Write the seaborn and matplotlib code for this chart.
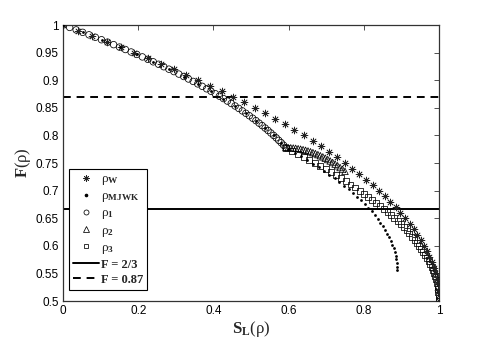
import numpy as np
import pandas as pd
import matplotlib
matplotlib.use("Agg")
import matplotlib.pyplot as plt
import seaborn as sns
from matplotlib.lines import Line2D
from matplotlib.ticker import FuncFormatter, MultipleLocator

sns.set_theme(style="white")
plt.rcParams["font.family"] = ["Liberation Sans", "DejaVu Sans"]
plt.rcParams["mathtext.fontset"] = "custom"
plt.rcParams["mathtext.rm"] = "Liberation Serif"
plt.rcParams["mathtext.it"] = "Liberation Serif"
plt.rcParams["mathtext.bf"] = "Liberation Serif:bold"
plt.rcParams["xtick.direction"] = "in"
plt.rcParams["ytick.direction"] = "in"

# rho_W (Werner) points
w_s = [0, 0.0396, 0.0784, 0.1164, 0.1536, 0.19, 0.2256, 0.2604, 0.2944, 0.3276,
       0.36, 0.3916, 0.4224, 0.4524, 0.4816, 0.51, 0.5376, 0.5644, 0.5904, 0.6156,
       0.64, 0.6636, 0.6864, 0.7084, 0.7296, 0.75, 0.7696, 0.7884, 0.8064, 0.8236,
       0.84, 0.8556, 0.8704, 0.8844, 0.8976, 0.91, 0.9216, 0.9324, 0.9424, 0.9516,
       0.96, 0.9676, 0.9744, 0.9804, 0.9856, 0.99, 0.9936, 0.9964, 0.9984, 0.9996, 1.0]
w_f = [1.00, 0.99, 0.98, 0.97, 0.96, 0.95, 0.94, 0.93, 0.92, 0.91,
       0.90, 0.89, 0.88, 0.87, 0.86, 0.85, 0.84, 0.83, 0.82, 0.81,
       0.80, 0.79, 0.78, 0.77, 0.76, 0.75, 0.74, 0.73, 0.72, 0.71,
       0.70, 0.69, 0.68, 0.67, 0.66, 0.65, 0.64, 0.63, 0.62, 0.61,
       0.60, 0.59, 0.58, 0.57, 0.56, 0.55, 0.54, 0.53, 0.52, 0.51, 0.50]

# rho_MJWK
m_s = [0, 0.0523, 0.1024, 0.1504, 0.1963, 0.24, 0.2816, 0.3211, 0.3584, 0.3936,
       0.4267, 0.4576, 0.4864, 0.5131, 0.5376, 0.56, 0.5803,
       0.5985, 0.6158, 0.6326, 0.6489, 0.6646, 0.6798, 0.6945, 0.7086, 0.7222,
       0.7353, 0.7478, 0.7598, 0.7713, 0.7822, 0.7926, 0.8025, 0.8118, 0.8206,
       0.8289, 0.8366, 0.8438, 0.8505, 0.8566, 0.8622, 0.8673, 0.8718, 0.8758,
       0.8793, 0.8822, 0.8846, 0.8865, 0.8878, 0.8886, 0.8889]
m_f = [1.0, 0.9867, 0.9733, 0.96, 0.9467, 0.9333, 0.92, 0.9067, 0.8933, 0.88,
       0.8667, 0.8533, 0.84, 0.8267, 0.8133, 0.80, 0.7867,
       0.7756, 0.7689, 0.7622, 0.7556, 0.7489, 0.7422, 0.7356, 0.7289, 0.7222,
       0.7156, 0.7089, 0.7022, 0.6956, 0.6889, 0.6822, 0.6756, 0.6689, 0.6622,
       0.6556, 0.6489, 0.6422, 0.6356, 0.6289, 0.6222, 0.6156, 0.6089, 0.6022,
       0.5956, 0.5889, 0.5822, 0.5756, 0.5689, 0.5622, 0.5556]

# rho_1
r1_s = [0, 0.0177, 0.0351, 0.0523, 0.0692, 0.0859, 0.1024, 0.1186, 0.1346, 0.1504,
        0.1659, 0.1812, 0.1963, 0.2111, 0.2257, 0.24, 0.2541, 0.268, 0.2816, 0.295,
        0.3081, 0.3211, 0.3337, 0.3462, 0.3584, 0.3704, 0.3821, 0.3936, 0.4049, 0.4159,
        0.4267, 0.4372, 0.4475, 0.4576, 0.4674, 0.477, 0.4864, 0.4955, 0.5044, 0.5131,
        0.5215, 0.5297, 0.5376, 0.5453, 0.5528, 0.56, 0.567, 0.5737, 0.5803, 0.5866, 0.5926]
r1_f = [1.0, 0.9956, 0.9911, 0.9867, 0.9822, 0.9778, 0.9733, 0.9689, 0.9644, 0.96,
        0.9556, 0.9511, 0.9467, 0.9422, 0.9378, 0.9333, 0.9289, 0.9244, 0.92, 0.9156,
        0.9111, 0.9067, 0.9022, 0.8978, 0.8933, 0.8889, 0.8844, 0.88, 0.8756, 0.8711,
        0.8667, 0.8622, 0.8578, 0.8533, 0.8489, 0.8444, 0.84, 0.8356, 0.8311, 0.8267,
        0.8222, 0.8178, 0.8133, 0.8089, 0.8044, 0.80, 0.7956, 0.7911, 0.7867, 0.7822, 0.7778]

# rho_2
r2_s = [0.5926, 0.5992, 0.6057, 0.6123, 0.6188, 0.6254, 0.6319, 0.6385, 0.6451,
        0.6516, 0.6582, 0.6647, 0.6713, 0.6779, 0.6844, 0.691, 0.6975, 0.7041,
        0.7106, 0.7172, 0.7238, 0.7303, 0.7369, 0.7434, 0.75]
r2_f = [0.7778, 0.7777, 0.7775, 0.7771, 0.7766, 0.7759, 0.7751, 0.7742, 0.773,
        0.7718, 0.7704, 0.7688, 0.7671, 0.7652, 0.7632, 0.7611, 0.7587, 0.7563,
        0.7537, 0.7509, 0.748, 0.745, 0.7418, 0.7384, 0.7349]

# rho_3
r3_s = [0.5926, 0.6087, 0.6245, 0.64, 0.6552, 0.67, 0.6845, 0.6987, 0.7125, 0.7261,
        0.7393, 0.7521, 0.7647, 0.7769, 0.7888, 0.8004, 0.8116, 0.8225, 0.8331, 0.8434,
        0.8533, 0.863, 0.8722, 0.8812, 0.8898, 0.8982, 0.9061, 0.9138, 0.9211, 0.9281,
        0.9348, 0.9412, 0.9472, 0.9529, 0.9583, 0.9633, 0.9681, 0.9725, 0.9765, 0.9803,
        0.9837, 0.9868, 0.9896, 0.992, 0.9941, 0.9959, 0.9974, 0.9985, 0.9993, 0.9998, 1.0]
r3_f = [0.7778, 0.7722, 0.7667, 0.7611, 0.7556, 0.75, 0.7444, 0.7389, 0.7333, 0.7278,
        0.7222, 0.7167, 0.7111, 0.7056, 0.70, 0.6944, 0.6889, 0.6833, 0.6778, 0.6722,
        0.6667, 0.6611, 0.6556, 0.65, 0.6444, 0.6389, 0.6333, 0.6278, 0.6222, 0.6167,
        0.6111, 0.6056, 0.60, 0.5944, 0.5889, 0.5833, 0.5778, 0.5722, 0.5667, 0.5611,
        0.5556, 0.55, 0.5444, 0.5389, 0.5333, 0.5278, 0.5222, 0.5167, 0.5111, 0.5056, 0.50]

thresholds = [2 / 3, 0.87]
threshold_labels = ["F = 2/3", "F = 0.87"]

fig = plt.figure(figsize=(4.85, 3.39), dpi=100)
ax = fig.add_axes([63 / 485, 38 / 339, 376 / 485, 276 / 339])

star = (8, 2, 0)
sns.scatterplot(x=w_s, y=w_f, ax=ax, marker=star, s=24, color="#222222",
                linewidth=0.55, zorder=3)
sns.scatterplot(x=r1_s, y=r1_f, ax=ax, marker="o", s=22, facecolor="none",
                edgecolor="black", linewidth=0.55, zorder=2)
sns.scatterplot(x=r2_s, y=r2_f, ax=ax, marker="^", s=22, facecolor="none",
                edgecolor="black", linewidth=0.55, zorder=2)
sns.scatterplot(x=r3_s, y=r3_f, ax=ax, marker="s", s=18, facecolor="none",
                edgecolor="black", linewidth=0.55, zorder=2)
sns.scatterplot(x=m_s, y=m_f, ax=ax, marker="o", s=4, color="black",
                linewidth=0, zorder=4)

ax.axhline(thresholds[0], color="black", lw=1.4, ls="-", zorder=1)
ax.axhline(thresholds[1], color="black", lw=1.4, ls=(0, (4, 3)), zorder=1)

ax.set_xlim(0, 1)
ax.set_ylim(0.5, 1)
ax.xaxis.set_major_locator(MultipleLocator(0.2))
ax.yaxis.set_major_locator(MultipleLocator(0.05))
fmt = FuncFormatter(lambda v, p: "%g" % round(v, 2))
ax.xaxis.set_major_formatter(fmt)
ax.yaxis.set_major_formatter(fmt)
ax.tick_params(axis="both", which="both", direction="in", top=True, right=True,
               length=3.5, width=0.6, color="#333333", labelsize=8.5, pad=3,
               labelcolor="black")
for sp in ax.spines.values():
    sp.set_color("#333333")
    sp.set_linewidth(0.9)

ax.set_xlabel(r"$\mathbf{S_L}(\rho)$", fontsize=12, labelpad=1)
ax.set_ylabel(r"$\mathbf{F}(\rho)$", fontsize=12, labelpad=2)

handles = [
    Line2D([], [], ls="none", marker=star, ms=4.5, color="#222222", mew=0.55),
    Line2D([], [], ls="none", marker="o", ms=1.6, color="black"),
    Line2D([], [], ls="none", marker="o", ms=3.6, mfc="none", mec="black", mew=0.55),
    Line2D([], [], ls="none", marker="^", ms=3.8, mfc="none", mec="black", mew=0.55),
    Line2D([], [], ls="none", marker="s", ms=3.2, mfc="none", mec="black", mew=0.55),
    Line2D([], [], color="black", lw=1.4),
    Line2D([], [], color="black", lw=1.4, ls=(0, (4, 3))),
]
labels = [r"$\rho_{\mathbf{W}}$", r"$\rho_{\mathbf{MJWK}}$", r"$\rho_{\mathbf{1}}$",
          r"$\rho_{\mathbf{2}}$", r"$\rho_{\mathbf{3}}$"] + threshold_labels
leg = ax.legend(handles, labels, loc="lower left", bbox_to_anchor=(0.016, 0.04),
                borderaxespad=0, fontsize=9.5, frameon=True, fancybox=False,
                edgecolor="black", framealpha=1, handlelength=2.0,
                handletextpad=0.1, labelspacing=0.22, borderpad=0.3)
leg.get_frame().set_linewidth(0.8)
for t in leg.get_texts()[5:]:
    t.set_fontfamily("Liberation Serif")
    t.set_fontweight("bold")
    t.set_fontsize(9)

fig.savefig("out.png", dpi=100)
